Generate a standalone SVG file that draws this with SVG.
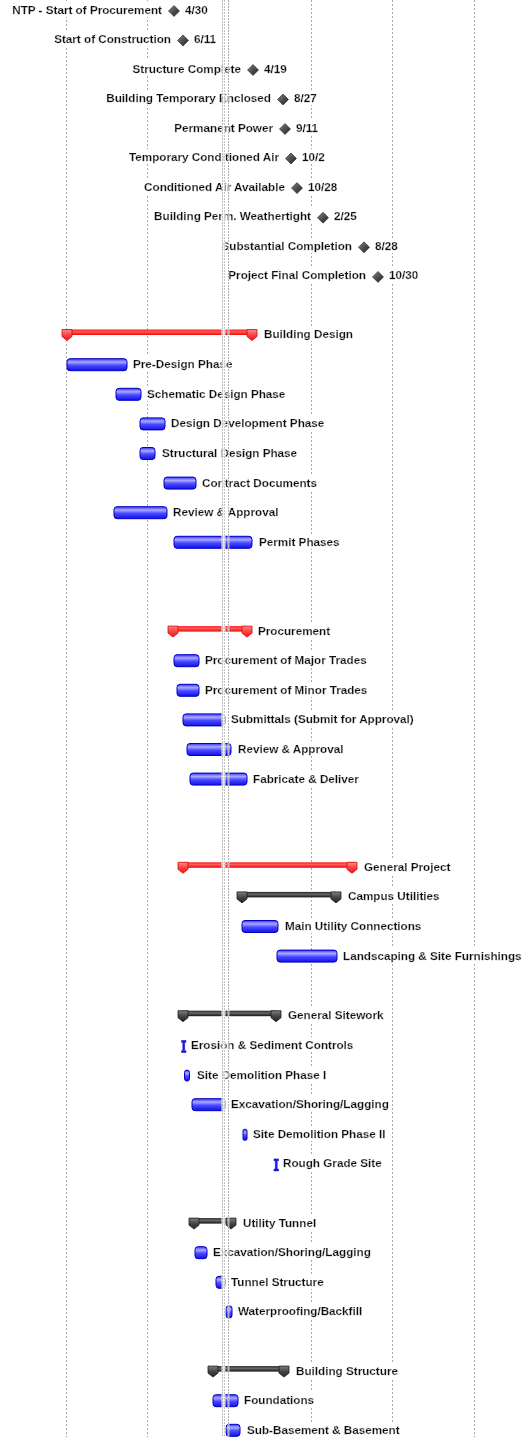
<svg xmlns="http://www.w3.org/2000/svg" width="523" height="1437" viewBox="0 0 523 1437">
<defs>
<style>
.lbl{font-family:"Liberation Sans",Arial,sans-serif;font-weight:bold;font-size:11.7px;fill:#111;stroke:#111;stroke-width:0.25;filter:url(#bg)}
.end{text-anchor:end}
.grid{stroke:#a8a8a8;stroke-width:1;stroke-dasharray:2 2;fill:none}
.task{fill:url(#gBlue);stroke:#0000c8;stroke-width:1}
.tick{fill:#1a1aff;stroke:#0000b0;stroke-width:.5}
.rbar{fill:url(#gRed)}
.rmk{fill:url(#gRedM);stroke:#e00000;stroke-width:.8}
.kbar{fill:url(#gBlk)}
.kmk{fill:url(#gBlkM);stroke:#1a1a1a;stroke-width:.8}
.dia{fill:url(#gDia);stroke:#222;stroke-width:.6}
</style>
<filter id="bg" x="-0.02" y="-0.05" width="1.04" height="1.1"><feFlood flood-color="#ffffff" result="f"/><feMerge><feMergeNode in="f"/><feMergeNode in="SourceGraphic"/></feMerge></filter>
<linearGradient id="gBlue" x1="0" y1="0" x2="0" y2="1"><stop offset="0" stop-color="#3434ff"/><stop offset="0.28" stop-color="#aaaaff"/><stop offset="0.55" stop-color="#4a4aff"/><stop offset="1" stop-color="#1010e8"/></linearGradient>
<linearGradient id="gRed" x1="0" y1="0" x2="0" y2="1"><stop offset="0" stop-color="#ff1a1a"/><stop offset="0.4" stop-color="#ff5a5a"/><stop offset="1" stop-color="#f00808"/></linearGradient>
<linearGradient id="gRedM" x1="0" y1="0" x2="0" y2="1"><stop offset="0" stop-color="#ff8a8a"/><stop offset="0.5" stop-color="#ff4040"/><stop offset="1" stop-color="#ee1414"/></linearGradient>
<linearGradient id="gBlk" x1="0" y1="0" x2="0" y2="1"><stop offset="0" stop-color="#222"/><stop offset="0.4" stop-color="#6a6a6a"/><stop offset="1" stop-color="#141414"/></linearGradient>
<linearGradient id="gBlkM" x1="0" y1="0" x2="0" y2="1"><stop offset="0" stop-color="#808080"/><stop offset="0.5" stop-color="#444"/><stop offset="1" stop-color="#242424"/></linearGradient>
<linearGradient id="gDia" x1="0" y1="0" x2="1" y2="1"><stop offset="0" stop-color="#808080"/><stop offset="1" stop-color="#1e1e1e"/></linearGradient>
</defs>
<rect width="523" height="1437" fill="#ffffff"/>
<g id="gridlines">
<line class="grid" x1="66.5" y1="0" x2="66.5" y2="1437"/>
<line class="grid" x1="147.5" y1="0" x2="147.5" y2="1437"/>
<line class="grid" x1="311.5" y1="0" x2="311.5" y2="1437"/>
<line class="grid" x1="392.5" y1="0" x2="392.5" y2="1437"/>
<line class="grid" x1="474.5" y1="0" x2="474.5" y2="1437"/>
</g>

<g id="m0" transform="translate(0,9.5)"><text class="lbl end" x="162" y="4">NTP - Start of Procurement</text><polygon class="dia" points="174,-4 179.5,1.5 174,7 168.5,1.5"/><text class="lbl" x="185" y="4">4/30</text></g>
<g id="m1" transform="translate(0,39)"><text class="lbl end" x="171" y="4">Start of Construction</text><polygon class="dia" points="183,-4 188.5,1.5 183,7 177.5,1.5"/><text class="lbl" x="194" y="4">6/11</text></g>
<g id="m2" transform="translate(0,68.5)"><text class="lbl end" x="241" y="4">Structure Complete</text><polygon class="dia" points="253,-4 258.5,1.5 253,7 247.5,1.5"/><text class="lbl" x="264" y="4">4/19</text></g>
<g id="m3" transform="translate(0,98)"><text class="lbl end" x="271" y="4">Building Temporary Enclosed</text><polygon class="dia" points="283,-4 288.5,1.5 283,7 277.5,1.5"/><text class="lbl" x="294" y="4">8/27</text></g>
<g id="m4" transform="translate(0,127.5)"><text class="lbl end" x="273" y="4">Permanent Power</text><polygon class="dia" points="285,-4 290.5,1.5 285,7 279.5,1.5"/><text class="lbl" x="296" y="4">9/11</text></g>
<g id="m5" transform="translate(0,157)"><text class="lbl end" x="279" y="4">Temporary Conditioned Air</text><polygon class="dia" points="291,-4 296.5,1.5 291,7 285.5,1.5"/><text class="lbl" x="302" y="4">10/2</text></g>
<g id="m6" transform="translate(0,186.6)"><text class="lbl end" x="285" y="4">Conditioned Air Available</text><polygon class="dia" points="297,-4 302.5,1.5 297,7 291.5,1.5"/><text class="lbl" x="308" y="4">10/28</text></g>
<g id="m7" transform="translate(0,216.2)"><text class="lbl end" x="311" y="4">Building Perm. Weathertight</text><polygon class="dia" points="323,-4 328.5,1.5 323,7 317.5,1.5"/><text class="lbl" x="334" y="4">2/25</text></g>
<g id="m8" transform="translate(0,245.8)"><text class="lbl end" x="352" y="4">Substantial Completion</text><polygon class="dia" points="364,-4 369.5,1.5 364,7 358.5,1.5"/><text class="lbl" x="375" y="4">8/28</text></g>
<g id="m9" transform="translate(0,275.4)"><text class="lbl end" x="366" y="4">Project Final Completion</text><polygon class="dia" points="378,-4 383.5,1.5 378,7 372.5,1.5"/><text class="lbl" x="389" y="4">10/30</text></g>

<g id="building-design" transform="translate(0,334)"><rect class="rbar" x="67" y="-4.5" width="185" height="5.5"/><path class="rmk" d="M62,-4.5 h10 v7 l-5,4 l-5,-4 z"/><path class="rmk" d="M247,-4.5 h10 v7 l-5,4 l-5,-4 z"/><text class="lbl" x="264" y="4">Building Design</text></g>
<g id="pre-design" transform="translate(0,364.2)"><rect class="task" x="67" y="-5.5" width="60" height="12" rx="3"/><text class="lbl" x="133" y="4">Pre-Design Phase</text></g>
<g id="schematic" transform="translate(0,393.8)"><rect class="task" x="116" y="-5.5" width="25" height="12" rx="3"/><text class="lbl" x="147" y="4">Schematic Design Phase</text></g>
<g id="design-dev" transform="translate(0,423.4)"><rect class="task" x="140" y="-5.5" width="25" height="12" rx="3"/><text class="lbl" x="171" y="4">Design Development Phase</text></g>
<g id="structural-design" transform="translate(0,453)"><rect class="task" x="140" y="-5.5" width="15" height="12" rx="3"/><text class="lbl" x="162" y="4">Structural Design Phase</text></g>
<g id="contract-docs" transform="translate(0,482.6)"><rect class="task" x="164" y="-5.5" width="32" height="12" rx="3"/><text class="lbl" x="202" y="4">Contract Documents</text></g>
<g id="design-review" transform="translate(0,512.2)"><rect class="task" x="114" y="-5.5" width="53" height="12" rx="3"/><text class="lbl" x="173" y="4">Review &amp; Approval</text></g>
<g id="permit" transform="translate(0,541.8)"><rect class="task" x="174" y="-5.5" width="78" height="12" rx="3"/><text class="lbl" x="259" y="4">Permit Phases</text></g>

<g id="procurement" transform="translate(0,630.6)"><rect class="rbar" x="173" y="-4.5" width="74" height="5.5"/><path class="rmk" d="M168,-4.5 h10 v7 l-5,4 l-5,-4 z"/><path class="rmk" d="M242,-4.5 h10 v7 l-5,4 l-5,-4 z"/><text class="lbl" x="258" y="4">Procurement</text></g>
<g id="major-trades" transform="translate(0,660.2)"><rect class="task" x="174" y="-5.5" width="25" height="12" rx="3"/><text class="lbl" x="205" y="4">Procurement of Major Trades</text></g>
<g id="minor-trades" transform="translate(0,689.8)"><rect class="task" x="177" y="-5.5" width="22" height="12" rx="3"/><text class="lbl" x="205" y="4">Procurement of Minor Trades</text></g>
<g id="submittals" transform="translate(0,719.4)"><rect class="task" x="183" y="-5.5" width="42" height="12" rx="3"/><text class="lbl" x="231" y="4">Submittals (Submit for Approval)</text></g>
<g id="proc-review" transform="translate(0,749)"><rect class="task" x="187" y="-5.5" width="44" height="12" rx="3"/><text class="lbl" x="238" y="4">Review &amp; Approval</text></g>
<g id="fabricate" transform="translate(0,778.6)"><rect class="task" x="190" y="-5.5" width="57" height="12" rx="3"/><text class="lbl" x="253" y="4">Fabricate &amp; Deliver</text></g>

<g id="general-project" transform="translate(0,866.8)"><rect class="rbar" x="183" y="-4.5" width="169" height="5.5"/><path class="rmk" d="M178,-4.5 h10 v7 l-5,4 l-5,-4 z"/><path class="rmk" d="M347,-4.5 h10 v7 l-5,4 l-5,-4 z"/><text class="lbl" x="364" y="4">General Project</text></g>
<g id="campus-utilities" transform="translate(0,896.4)"><rect class="kbar" x="242" y="-4.5" width="94" height="5.5"/><path class="kmk" d="M237,-4.5 h10 v7 l-5,4 l-5,-4 z"/><path class="kmk" d="M331,-4.5 h10 v7 l-5,4 l-5,-4 z"/><text class="lbl" x="348" y="4">Campus Utilities</text></g>
<g id="main-utility" transform="translate(0,926)"><rect class="task" x="242" y="-5.5" width="36" height="12" rx="3"/><text class="lbl" x="285" y="4">Main Utility Connections</text></g>
<g id="landscaping" transform="translate(0,955.6)"><rect class="task" x="277" y="-5.5" width="60" height="12" rx="3"/><text class="lbl" x="343" y="4">Landscaping &amp; Site Furnishings</text></g>

<g id="general-sitework" transform="translate(0,1015.2)"><rect class="kbar" x="183" y="-4.5" width="93" height="5.5"/><path class="kmk" d="M178,-4.5 h10 v7 l-5,4 l-5,-4 z"/><path class="kmk" d="M271,-4.5 h10 v7 l-5,4 l-5,-4 z"/><text class="lbl" x="288" y="4">General Sitework</text></g>
<g id="erosion" transform="translate(0,1045)"><path class="tick" d="M181.5,-4.5 h4.5 v1.8 h-1.3 v8.4 h1.3 v1.8 h-4.5 v-1.8 h1.3 v-8.4 h-1.3 z"/><text class="lbl" x="191" y="4">Erosion &amp; Sediment Controls</text></g>
<g id="site-demo-1" transform="translate(0,1074.6)"><rect class="task" x="184.5" y="-4.5" width="5" height="11" rx="2.5"/><text class="lbl" x="197" y="4">Site Demolition Phase I</text></g>
<g id="excavation-1" transform="translate(0,1104.2)"><rect class="task" x="192" y="-5.5" width="33" height="12" rx="3"/><text class="lbl" x="231" y="4">Excavation/Shoring/Lagging</text></g>
<g id="site-demo-2" transform="translate(0,1133.8)"><rect class="task" x="243" y="-4.5" width="4" height="11" rx="1.5"/><text class="lbl" x="253" y="4">Site Demolition Phase II</text></g>
<g id="rough-grade" transform="translate(0,1163.4)"><path class="tick" d="M274,-4.5 h4.5 v1.8 h-1.3 v8.4 h1.3 v1.8 h-4.5 v-1.8 h1.3 v-8.4 h-1.3 z"/><text class="lbl" x="283" y="4">Rough Grade Site</text></g>

<g id="utility-tunnel" transform="translate(0,1222.6)"><rect class="kbar" x="194" y="-4.5" width="37" height="5.5"/><path class="kmk" d="M189,-4.5 h10 v7 l-5,4 l-5,-4 z"/><path class="kmk" d="M226,-4.5 h10 v7 l-5,4 l-5,-4 z"/><text class="lbl" x="243" y="4">Utility Tunnel</text></g>
<g id="excavation-2" transform="translate(0,1252.2)"><rect class="task" x="195" y="-5.5" width="12" height="12" rx="3"/><text class="lbl" x="213" y="4">Excavation/Shoring/Lagging</text></g>
<g id="tunnel-structure" transform="translate(0,1281.8)"><rect class="task" x="216" y="-5.5" width="9" height="12" rx="3"/><text class="lbl" x="231" y="4">Tunnel Structure</text></g>
<g id="waterproofing" transform="translate(0,1311.4)"><rect class="task" x="226" y="-5.5" width="6" height="12" rx="2.5"/><text class="lbl" x="238" y="4">Waterproofing/Backfill</text></g>

<g id="building-structure" transform="translate(0,1370.6)"><rect class="kbar" x="213" y="-4.5" width="71" height="5.5"/><path class="kmk" d="M208,-4.5 h10 v7 l-5,4 l-5,-4 z"/><path class="kmk" d="M279,-4.5 h10 v7 l-5,4 l-5,-4 z"/><text class="lbl" x="296" y="4">Building Structure</text></g>
<g id="foundations" transform="translate(0,1400.2)"><rect class="task" x="213" y="-5.5" width="25" height="12" rx="3"/><text class="lbl" x="244" y="4">Foundations</text></g>
<g id="sub-basement" transform="translate(0,1429.8)"><rect class="task" x="226" y="-5.5" width="14" height="12" rx="3"/><text class="lbl" x="247" y="4">Sub-Basement &amp; Basement</text></g>

<g id="today-lines">
<rect x="221.5" y="0" width="4" height="1437" fill="#ffffff" opacity="0.85"/>
<line x1="222.5" y1="0" x2="222.5" y2="1437" stroke="#b8b8b8" stroke-width="1" stroke-dasharray="2 1"/>
<line x1="224.5" y1="0" x2="224.5" y2="1437" stroke="#c8c8c8" stroke-width="1" stroke-dasharray="2 1"/>
<rect x="227.5" y="0" width="2" height="1437" fill="#ffffff" opacity="0.6"/>
<line x1="228.5" y1="0" x2="228.5" y2="1437" stroke="#b0b0b0" stroke-width="1" stroke-dasharray="2 1"/>
</g>
</svg>
